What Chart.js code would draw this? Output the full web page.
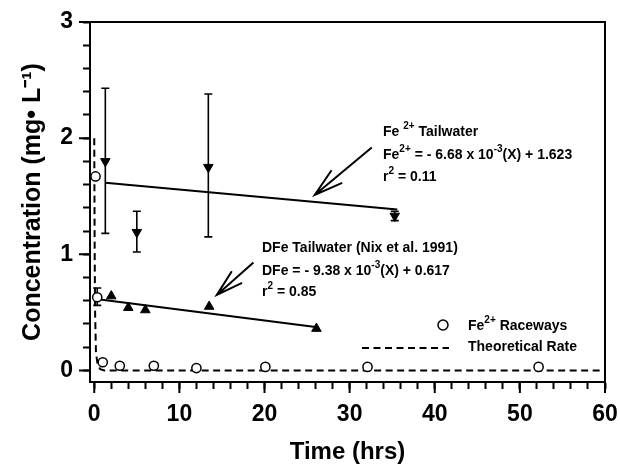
<!DOCTYPE html>
<html>
<head>
<meta charset="utf-8">
<script src="https://cdn.jsdelivr.net/npm/chart.js@4.4.0/dist/chart.umd.min.js"></script>
<style>
  html, body { margin: 0; padding: 0; background: #fff; }
  canvas { display: block; }
</style>
</head>
<body>
<canvas id="chart" width="620" height="468"></canvas>
<script>
// Fe2+ tailwater (inverted triangles with error bars)
const tailTime = [1.3, 5.0, 13.4, 35.3];
const tailFe2 = [1.80, 1.19, 1.75, 1.33];
const tailFe2Low = [1.18, 1.02, 1.15, 1.29];
const tailFe2High = [2.43, 1.37, 2.38, 1.37];

// DFe tailwater (Nix et al. 1991)
const dfeTime = [2.0, 4.0, 6.0, 13.5, 26.1];
const dfeValue = [0.64, 0.54, 0.52, 0.55, 0.36];

// Fe2+ raceways (open circles)
const raceTime = [0.15, 0.35, 1.0, 3.0, 7.0, 12.0, 20.1, 32.1, 52.2];
const raceFe2 = [1.67, 0.63, 0.07, 0.04, 0.04, 0.02, 0.03, 0.03, 0.03];
const raceLow = [null, 0.56, null, null, 0.02, null, null, null, null];
const raceHigh = [null, 0.71, null, null, 0.06, null, null, null, null];

// theoretical rate (dashed)
const theoryTime = [0, 0.05, 0.1, 0.2, 0.4, 0.7, 1.2, 60];
const theoryRate = [2.0, 1.0, 0.5, 0.15, 0.05, 0.01, 0, 0];

// regression lines
const fitFeTime = [1.3, 35.6];
const fitFeValue = [1.615, 1.385];
const fitDfeTime = [0, 26.0];
const fitDfeValue = [0.617, 0.373];

// axes
const xTickLabels = [0, 10, 20, 30, 40, 50, 60];
const yTickLabels = [0, 1, 2, 3];
const xMinorStep = 2;
const yMinorStep = 0.2;

const FONT = "'Liberation Sans', Arial, Helvetica, sans-serif";

function pts(xs, ys) {
    return xs.map(function (x, i) { return {x: x, y: ys[i]}; });
}

function stepTicks(lo, hi, step) {
    var out = [];
    var n = Math.round((hi - lo) / step);
    for (var i = 0; i <= n; i++) {
        out.push({value: +(lo + i * step).toFixed(4)});
    }
    return out;
}

function stripPadding(scale) {
    scale.paddingLeft = 0;
    scale.paddingRight = 0;
    scale.paddingTop = 0;
    scale.paddingBottom = 0;
}

// draws a line of text where parts flagged 1 are superscripts
function drawRich(ctx, parts, x, y, size) {
    ctx.textBaseline = 'middle';
    ctx.textAlign = 'left';
    parts.forEach(function (p) {
        var sup = p[1] === 1;
        ctx.font = 'bold ' + (sup ? Math.round(size * 0.72) : size) + 'px ' + FONT;
        ctx.fillText(p[0], x, sup ? y - size * 0.42 : y);
        x += ctx.measureText(p[0]).width;
    });
}

function drawArrow(ctx, x0, y0, x1, y1, len) {
    var ang = Math.atan2(y0 - y1, x0 - x1);
    var spread = 0.28;
    ctx.beginPath();
    ctx.moveTo(x0, y0);
    ctx.lineTo(x1, y1);
    ctx.moveTo(x1 + Math.cos(ang - spread) * len, y1 + Math.sin(ang - spread) * len);
    ctx.lineTo(x1, y1);
    ctx.lineTo(x1 + Math.cos(ang + spread) * len, y1 + Math.sin(ang + spread) * len);
    ctx.stroke();
}

var errorBars = {
    id: 'errorBars',
    beforeDatasetsDraw: function (chart) {
        var ctx = chart.ctx;
        var xs = chart.scales.x, ys = chart.scales.y;
        var sets = [[tailTime, tailFe2Low, tailFe2High], [raceTime, raceLow, raceHigh]];
        ctx.save();
        ctx.strokeStyle = '#000';
        ctx.lineWidth = 1.6;
        sets.forEach(function (s) {
            s[0].forEach(function (t, i) {
                if (s[1][i] === null) return;
                var px = xs.getPixelForValue(t);
                var lo = ys.getPixelForValue(s[1][i]);
                var hi = ys.getPixelForValue(s[2][i]);
                ctx.beginPath();
                ctx.moveTo(px, lo); ctx.lineTo(px, hi);
                ctx.moveTo(px - 4, lo); ctx.lineTo(px + 4, lo);
                ctx.moveTo(px - 4, hi); ctx.lineTo(px + 4, hi);
                ctx.stroke();
            });
        });
        ctx.restore();
    }
};

var annotations = {
    id: 'annotations',
    afterDraw: function (chart) {
        var ctx = chart.ctx;
        var a = chart.chartArea;
        var xs = chart.scales.x, ys = chart.scales.y;
        ctx.save();
        ctx.strokeStyle = '#000';
        ctx.fillStyle = '#000';

        // frame top and right
        ctx.lineWidth = 2;
        ctx.beginPath();
        ctx.moveTo(a.left, a.top);
        ctx.lineTo(a.right, a.top);
        ctx.lineTo(a.right, a.bottom);
        ctx.stroke();

        // longer marks on labelled ticks
        ctx.beginPath();
        xTickLabels.forEach(function (v) {
            var px = xs.getPixelForValue(v);
            ctx.moveTo(px, a.bottom);
            ctx.lineTo(px, a.bottom + 11);
        });
        yTickLabels.forEach(function (v) {
            var py = ys.getPixelForValue(v);
            ctx.moveTo(a.left, py);
            ctx.lineTo(a.left - 11, py);
        });
        ctx.stroke();

        // arrows
        drawArrow(ctx, xs.getPixelForValue(32.6), ys.getPixelForValue(1.92),
            xs.getPixelForValue(25.9), ys.getPixelForValue(1.51), 30);
        drawArrow(ctx, xs.getPixelForValue(18.7), ys.getPixelForValue(0.93),
            xs.getPixelForValue(14.4), ys.getPixelForValue(0.65), 28);

        // equation blocks
        drawRich(ctx, [['Fe ', 0], ['2+', 1], [' Tailwater', 0]], 383, 132, 14);
        drawRich(ctx, [['Fe', 0], ['2+', 1], [' = - 6.68 x 10', 0], ['-3', 1], ['(X) + 1.623', 0]], 383, 155, 14);
        drawRich(ctx, [['r', 0], ['2', 1], [' = 0.11', 0]], 383, 177, 14);

        drawRich(ctx, [['DFe Tailwater (Nix et al. 1991)', 0]], 262, 248, 14);
        drawRich(ctx, [['DFe = - 9.38 x 10', 0], ['-3', 1], ['(X) + 0.617', 0]], 262, 271, 14);
        drawRich(ctx, [['r', 0], ['2', 1], [' = 0.85', 0]], 262, 292, 14);

        // legend
        ctx.lineWidth = 1.5;
        ctx.fillStyle = '#fff';
        ctx.beginPath();
        ctx.arc(443, 325, 5, 0, Math.PI * 2);
        ctx.fill();
        ctx.stroke();
        ctx.fillStyle = '#000';
        drawRich(ctx, [['Fe', 0], ['2+', 1], [' Raceways', 0]], 468, 326, 14);
        ctx.lineWidth = 2;
        ctx.setLineDash([7, 4.5]);
        ctx.beginPath();
        ctx.moveTo(362, 348);
        ctx.lineTo(449, 348);
        ctx.stroke();
        ctx.setLineDash([]);
        drawRich(ctx, [['Theoretical Rate', 0]], 468, 347, 14);
        ctx.restore();
    }
};

new Chart(document.getElementById('chart'), {
    type: 'scatter',
    data: {
        datasets: [{
            label: 'Fe2+ Raceways',
            data: pts(raceTime, raceFe2),
            pointStyle: 'circle',
            pointRadius: 4.6,
            pointBackgroundColor: '#fff',
            pointBorderColor: '#000',
            pointBorderWidth: 1.5,
            showLine: false
        }, {
            label: 'Fe2+ Tailwater',
            data: pts(tailTime, tailFe2),
            pointStyle: 'triangle',
            pointRotation: 180,
            pointRadius: 5.5,
            pointBackgroundColor: '#000',
            pointBorderColor: '#000',
            pointBorderWidth: 1,
            showLine: false
        }, {
            label: 'DFe Tailwater',
            data: pts(dfeTime, dfeValue),
            pointStyle: 'triangle',
            pointRadius: 5.5,
            pointBackgroundColor: '#000',
            pointBorderColor: '#000',
            pointBorderWidth: 1,
            showLine: false
        }, {
            label: 'Fe2+ fit',
            data: pts(fitFeTime, fitFeValue),
            showLine: true,
            borderColor: '#000',
            borderWidth: 2,
            pointRadius: 0
        }, {
            label: 'DFe fit',
            data: pts(fitDfeTime, fitDfeValue),
            showLine: true,
            borderColor: '#000',
            borderWidth: 2,
            pointRadius: 0
        }, {
            label: 'Theoretical Rate',
            data: pts(theoryTime, theoryRate),
            showLine: true,
            borderColor: '#000',
            borderWidth: 2,
            borderDash: [7, 4.5],
            tension: 0,
            pointRadius: 0
        }]
    },
    options: {
        responsive: false,
        animation: false,
        devicePixelRatio: 1,
        layout: {padding: {left: 0, top: 22, right: 15, bottom: 0}},
        plugins: {
            legend: {display: false},
            tooltip: {enabled: false}
        },
        scales: {
            x: {
                type: 'linear',
                min: -0.5,
                max: 60,
                afterBuildTicks: function (scale) {
                    scale.ticks = stepTicks(0, 60, xMinorStep);
                },
                afterFit: function (scale) {
                    scale.height = 86;
                    stripPadding(scale);
                },
                ticks: {
                    autoSkip: false,
                    maxRotation: 0,
                    padding: 12,
                    color: '#000',
                    font: {family: FONT, size: 23, weight: 'bold'},
                    callback: function (v) { return xTickLabels.indexOf(v) >= 0 ? String(v) : ''; }
                },
                grid: {drawOnChartArea: false, tickLength: 7, tickWidth: 2, tickColor: '#000'},
                border: {color: '#000', width: 2},
                title: {
                    display: true,
                    text: 'Time (hrs)',
                    color: '#000',
                    font: {family: FONT, size: 24, weight: 'bold'},
                    padding: {top: 0, bottom: 1}
                }
            },
            y: {
                type: 'linear',
                min: -0.1,
                max: 3,
                afterBuildTicks: function (scale) {
                    scale.ticks = stepTicks(0, 3, yMinorStep);
                },
                afterFit: function (scale) {
                    scale.width = 90;
                    stripPadding(scale);
                },
                ticks: {
                    autoSkip: false,
                    padding: 10,
                    color: '#000',
                    font: {family: FONT, size: 23, weight: 'bold'},
                    callback: function (v) { return yTickLabels.indexOf(v) >= 0 ? String(v) : ''; }
                },
                grid: {drawOnChartArea: false, tickLength: 7, tickWidth: 2, tickColor: '#000'},
                border: {color: '#000', width: 2},
                title: {
                    display: true,
                    text: 'Concentration (mg\u2022 L\u207B\u00B9)',
                    color: '#000',
                    font: {family: FONT, size: 25, weight: 'bold'},
                    padding: {top: 18, bottom: 0}
                }
            }
        }
    },
    plugins: [errorBars, annotations]
});
</script>
</body>
</html>
